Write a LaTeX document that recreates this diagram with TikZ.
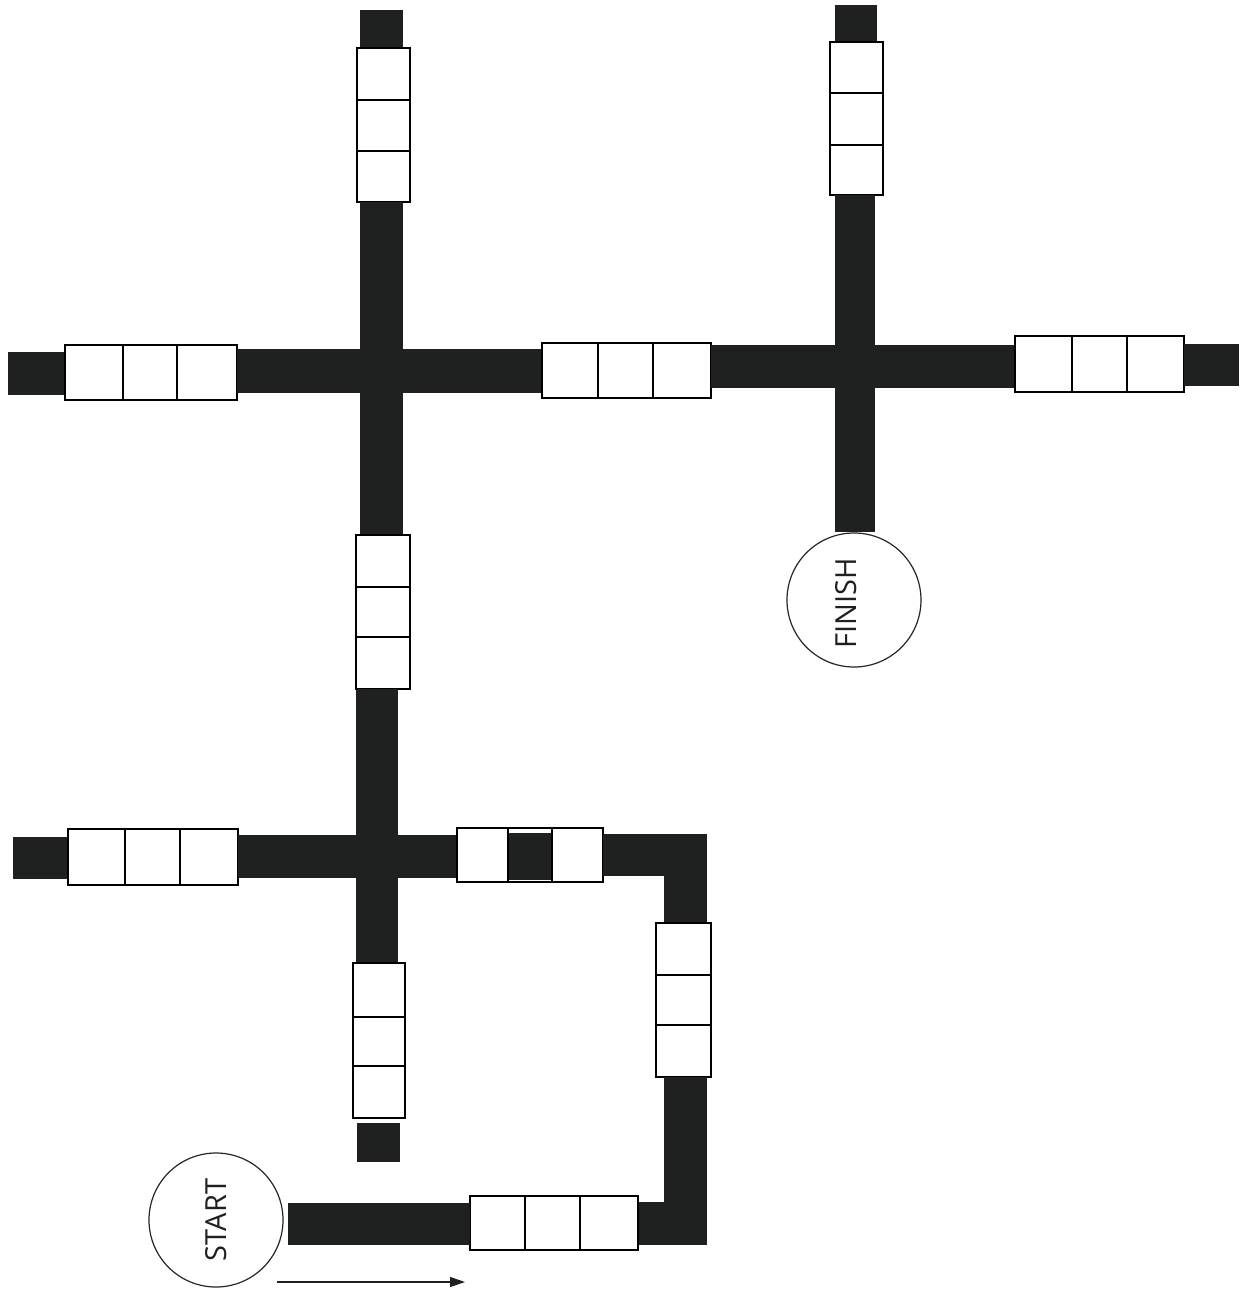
\documentclass[tikz,border=0pt]{standalone}
\usepackage{fontspec}
\setmainfont{Open Sans}
\usetikzlibrary{arrows.meta}
\definecolor{ink}{RGB}{30,33,31}
\tikzset{
  bar/.style={fill=ink,draw=none},
  cell/.style={draw=black,line width=1.3pt,fill=white},
  divider/.style={draw=black,line width=1.3pt},
  ring/.style={circle,draw=black!85,line width=1.2pt,minimum size=134pt,inner sep=0pt},
  lbl/.style={font=\fontsize{29}{29}\selectfont,rotate=90,text=ink},
  pointer/.style={line width=1.1pt,draw=ink,-{Triangle[length=15pt,width=10pt]}}
}
% three cells in a row: x1,y1,x2,y2, divider positions d1,d2
\newcommand\rowcells[6]{%
  \draw[cell] (#1,#2) rectangle (#3,#4);
  \draw[divider] (#5,#2) -- (#5,#4) (#6,#2) -- (#6,#4);}
% three cells in a column: x1,y1,x2,y2, divider positions d1,d2
\newcommand\colcells[6]{%
  \draw[cell] (#1,#2) rectangle (#3,#4);
  \draw[divider] (#1,#5) -- (#3,#5) (#1,#6) -- (#3,#6);}
\begin{document}
\begin{tikzpicture}[x=1pt,y=-1pt]
\useasboundingbox (0,0) rectangle (1244,1293);
\fill[white] (0,0) rectangle (1244,1293);

% ---- left vertical track
\fill[bar] (360,10) rectangle (403,48);
\colcells{357}{48}{410}{202}{100}{151}
\fill[bar] (360,202) rectangle (403,535);
\colcells{356}{535}{410}{689}{587}{637}
\fill[bar] (356,689) rectangle (398,963);
\colcells{353}{963}{405}{1118}{1017}{1066}
\fill[bar] (357,1123) rectangle (400,1162);

% ---- upper horizontal track
\fill[bar] (8,352) rectangle (65,395);
\rowcells{65}{345}{237}{400}{123}{177}
\fill[bar] (237,349) rectangle (542,393);
\rowcells{542}{343}{711}{398}{598}{653}
\fill[bar] (711,345) rectangle (1015,388);
\rowcells{1015}{336}{1184}{392}{1072}{1127}
\fill[bar] (1184,344) rectangle (1239,386);

% ---- right vertical track
\fill[bar] (835,5) rectangle (877,42);
\colcells{830}{42}{883}{195}{93}{145}
\fill[bar] (835,195) rectangle (875,532);

% ---- lower horizontal track
\fill[bar] (13,837) rectangle (68,879);
\rowcells{68}{829}{238}{885}{125}{180}
\fill[bar] (238,835) rectangle (457,878);
\draw[cell] (457,828) rectangle (603,882);
\fill[bar] (508,833) rectangle (552,880);
\draw[divider] (457,828) rectangle (603,882) (508,828) -- (508,882) (552,828) -- (552,882);
\fill[bar] (603,834) rectangle (707,876);
\fill[bar] (664,834) rectangle (707,923);
\colcells{656}{923}{711}{1077}{975}{1025}
\fill[bar] (664,1077) rectangle (707,1245);
\fill[bar] (638,1202) rectangle (707,1245);
\rowcells{470}{1196}{638}{1250}{525}{580}
\fill[bar] (288,1203) rectangle (470,1245);

% ---- start / finish
\node[ring] (start) at (216,1220) {};
\node[lbl] (startlbl) at (start.center) {START};
\node[ring] (finish) at (854,600) {};
\node[lbl] (finishlbl) at (846,603) {FINISH};

\coordinate (arrowtail) at (277,1282);
\coordinate (arrowhead) at (465,1282);
\draw[pointer] (arrowtail) -- (arrowhead);
\end{tikzpicture}
\end{document}
